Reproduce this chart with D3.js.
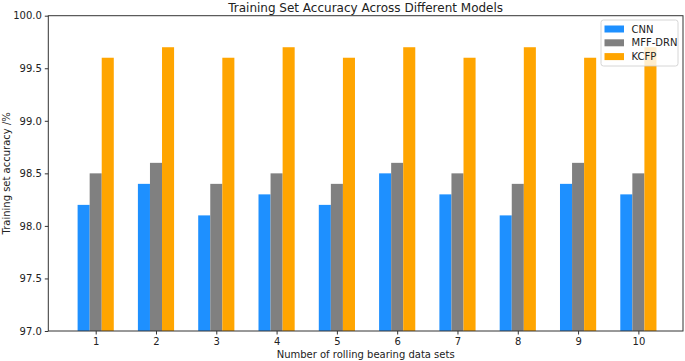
<!DOCTYPE html>
<html><head><meta charset="utf-8">
<script src="https://cdn.jsdelivr.net/npm/d3@7"></script>
<style>body{margin:0;background:#fff;} text{font-family:"DejaVu Sans",sans-serif;fill:#222;}</style>
</head><body>
<svg id="c" width="685" height="361"></svg>
<script>
const categories = [1,2,3,4,5,6,7,8,9,10];
const seriesNames = ["CNN","MFF-DRN","KCFP"];
const cnn = [98.2,98.4,98.1,98.3,98.2,98.5,98.3,98.1,98.4,98.3];
const mffdrn = [98.5,98.6,98.4,98.5,98.4,98.6,98.5,98.4,98.6,98.5];
const kcfp = [99.6,99.7,99.6,99.7,99.6,99.7,99.6,99.7,99.6,99.7];
const yTicks = [97.0,97.5,98.0,98.5,99.0,99.5,100.0];
const colors = ["#1e90ff","#808080","#ffa500"];
const title = "Training Set Accuracy Across Different Models";
const xLabel = "Number of rolling bearing data sets";
const yLabel = "Training set accuracy /%";

const series = [cnn, mffdrn, kcfp];
const svg = d3.select("#c");
const L = 48.3, R = 683, T = 15.7, B = 331;
const x = d3.scaleLinear().domain([0.214, 10.74]).range([L, R]);
const y = d3.scaleLinear().domain([97, 100]).range([B, T]);
const bw = 0.2;

series.forEach((vals, si) => {
  svg.append("g").selectAll("rect").data(vals).join("rect")
    .attr("x", (d,i) => x(categories[i] + (si-1)*bw - bw/2))
    .attr("width", (d,i) => x(categories[i] + (si-1)*bw + bw/2) - x(categories[i] + (si-1)*bw - bw/2))
    .attr("y", d => y(d))
    .attr("height", d => y(97) - y(d))
    .attr("fill", colors[si]);
});

// frame
svg.append("rect").attr("x", L).attr("y", T).attr("width", R-L).attr("height", B-T)
  .attr("fill","none").attr("stroke","#333").attr("stroke-width",1);

const xAxis = svg.append("g").attr("transform",`translate(0,${B})`)
  .call(d3.axisBottom(x).tickValues(categories).tickSize(3.5).tickPadding(3).tickFormat(d3.format("d")));
const yAxis = svg.append("g").attr("transform",`translate(${L},0)`)
  .call(d3.axisLeft(y).tickValues(yTicks).tickSize(3.5).tickPadding(3).tickFormat(d3.format(".1f")));
[xAxis,yAxis].forEach(a => {
  a.select(".domain").remove();
  a.selectAll(".tick line").attr("stroke","#333");
  a.selectAll(".tick text").attr("font-size","10px").attr("font-family","DejaVu Sans").attr("fill","#222");
});

svg.append("text").attr("x",(L+R)/2).attr("y",11.5).attr("text-anchor","middle")
  .attr("font-size","12px").text(title);
svg.append("text").attr("x",(L+R)/2).attr("y",358).attr("text-anchor","middle")
  .attr("font-size","10px").text(xLabel);
svg.append("text").attr("transform",`translate(10,${(T+B)/2}) rotate(-90)`).attr("text-anchor","middle")
  .attr("font-size","10px").text(yLabel);

// legend
const lg = svg.append("g");
lg.append("rect").attr("x",601).attr("y",20).attr("width",77).attr("height",46).attr("rx",2.5)
  .attr("fill","#fff").attr("fill-opacity",0.8).attr("stroke","#ccc").attr("stroke-width",0.8);
seriesNames.forEach((n,i) => {
  const cy = 29 + i*13.8;
  lg.append("rect").attr("x",604.5).attr("y",cy-3.5).attr("width",19.5).attr("height",7).attr("fill",colors[i]);
  lg.append("text").attr("x",631.5).attr("y",cy+3.5).attr("font-size","10px").text(n);
});
</script>
</body></html>
